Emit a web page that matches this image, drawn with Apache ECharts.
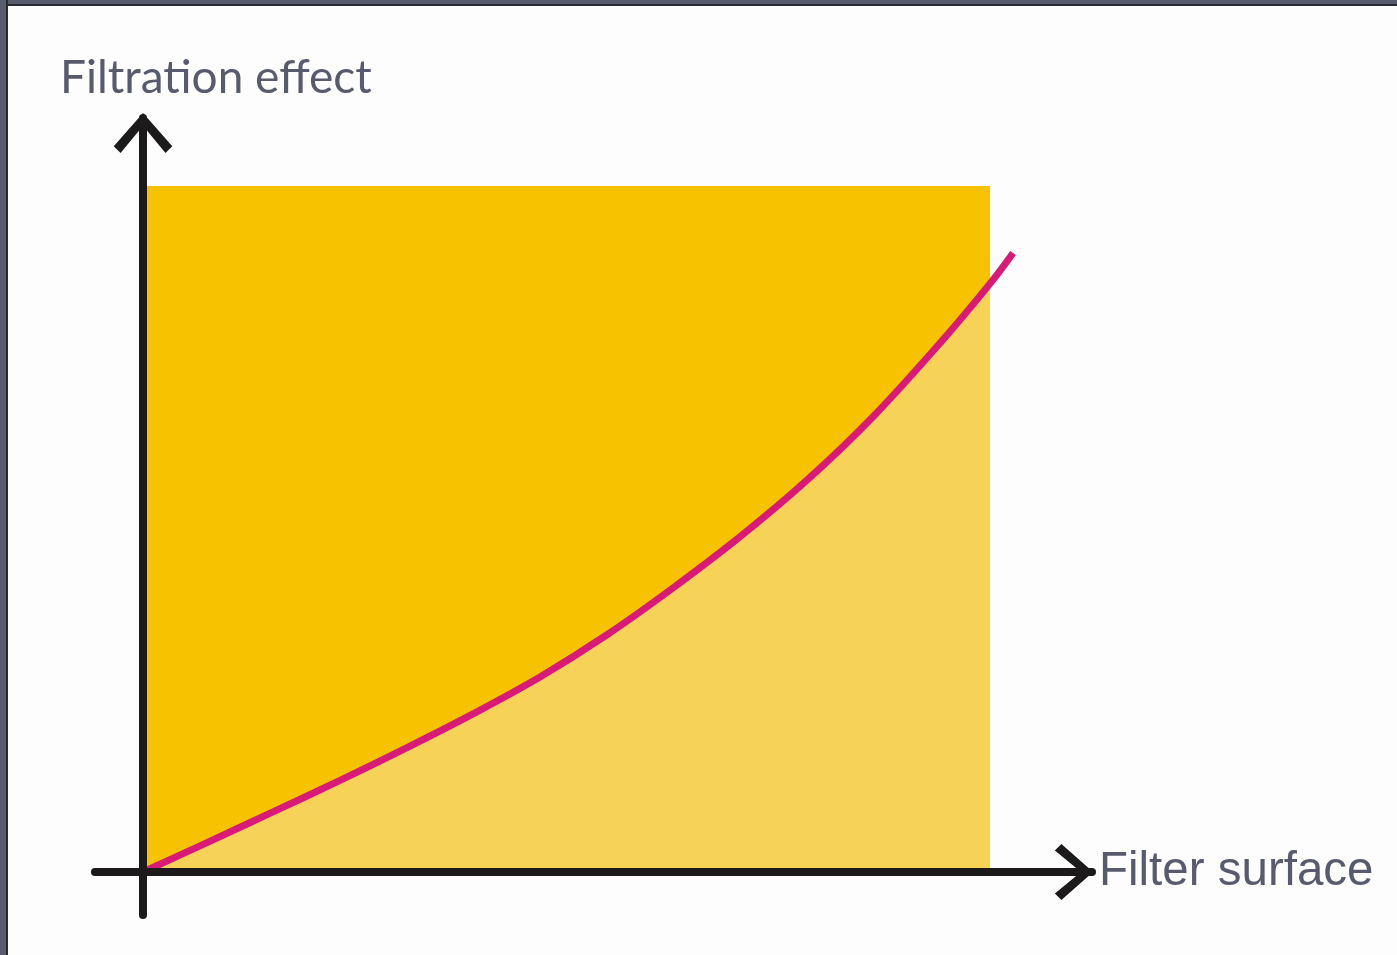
<!DOCTYPE html>
<html>
<head>
<meta charset="utf-8">
<script src="https://cdn.jsdelivr.net/npm/echarts@6/dist/echarts.min.js"></script>
<style>
html,body{margin:0;padding:0;background:#fdfdfd;}
#chart{position:absolute;left:0;top:0;width:1397px;height:955px;}
#bt{position:absolute;left:0;top:0;width:1397px;height:4px;background:#585c6c;border-bottom:2px solid #2a2a30;}
#bl{position:absolute;left:0;top:0;width:6px;height:955px;background:#585c6c;border-right:2px solid #2a2a30;}
</style>
</head>
<body>
<div id="chart"></div>
<div id="bt"></div>
<div id="bl"></div>
<script>
// Data (x: filter surface, y: filtration effect, 0..100 = coloured box)
const curveX = [0, 7.56, 15.35, 23.26, 31.17, 38.96, 46.87, 54.78, 62.57, 70.48, 78.39, 86.19, 94.10, 100, 102.72];
const curveY = [0, 4.29, 8.76, 13.35, 18.13, 23.05, 28.43, 34.58, 41.40, 48.86, 57.11, 66.36, 77.10, 85.77, 90.23];
const boxX = [0, 100];
const boxY = [100, 100];
const xName = 'Filter surface';
const yName = 'Filtration effect';

const curveData = curveX.map((x, i) => [x, curveY[i]]);
const areaData = curveData.filter(p => p[0] <= 100);
const boxData = boxX.map((x, i) => [x, boxY[i]]);

const chevron = 'path://M30,0 L60,34 L53,41 L30,13 L7,41 L0,34 Z';

const chart = echarts.init(document.getElementById('chart'), null, {renderer: 'canvas'});
chart.setOption({
  animation: false,
  backgroundColor: '#fdfdfd',
  title: {
    text: yName,
    left: 55,
    top: 50,
    textStyle: {fontFamily: 'Lato', fontSize: 46, fontWeight: 'normal', color: '#585b6d'}
  },
  grid: {left: 95, right: 305, top: 118, bottom: 40},
  xAxis: {
    type: 'value', min: -5.67, max: 112.04, z: 10,
    name: xName, nameLocation: 'end', nameGap: 7,
    nameTextStyle: {fontFamily: 'Liberation Sans', fontSize: 47.5, color: '#585b6d', verticalAlign: 'middle'},
    axisLine: {onZero: true, symbol: ['none', chevron], symbolSize: [56, 46], symbolOffset: [0, -18],
      lineStyle: {color: '#1c1a1a', width: 8}},
    axisTick: {show: false}, axisLabel: {show: false}, splitLine: {show: false}
  },
  yAxis: {
    type: 'value', min: -6.27, max: 109.91, z: 10,
    axisLine: {onZero: true, symbol: ['none', chevron], symbolSize: [60, 40], symbolOffset: [0, -15],
      lineStyle: {color: '#1c1a1a', width: 8}},
    axisTick: {show: false}, axisLabel: {show: false}, splitLine: {show: false}
  },
  series: [
    {
      type: 'line', data: boxData, z: 1, showSymbol: false, silent: true,
      lineStyle: {width: 0}, areaStyle: {color: '#f7c300', opacity: 1}
    },
    {
      type: 'line', data: areaData, z: 2, smooth: 0.35, showSymbol: false, silent: true,
      lineStyle: {width: 0}, areaStyle: {color: '#f6d256', opacity: 1}
    },
    {
      type: 'line', data: curveData, z: 3, smooth: 0.35, showSymbol: false, silent: true,
      lineStyle: {width: 7, color: '#d91a78', cap: 'butt'}
    }
  ]
});
</script>
</body>
</html>
